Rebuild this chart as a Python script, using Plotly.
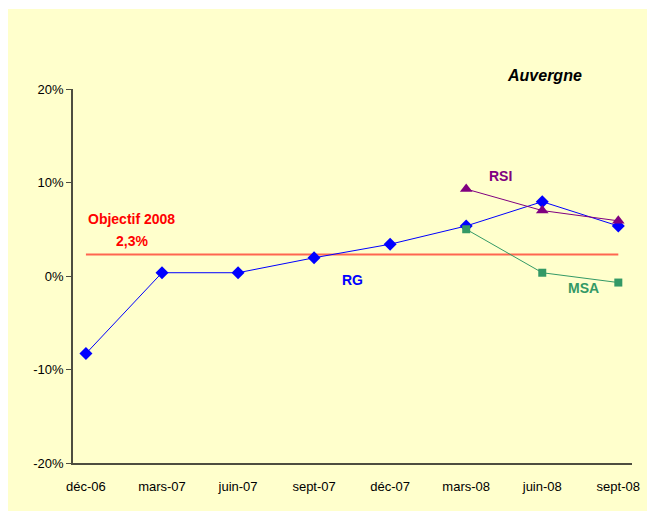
import plotly.graph_objects as go

categories = ["déc-06", "mars-07", "juin-07", "sept-07", "déc-07", "mars-08", "juin-08", "sept-08"]
rg = [-8.3, 0.35, 0.35, 1.95, 3.4, 5.35, 7.95, 5.35]
rsi_cats = ["mars-08", "juin-08", "sept-08"]
rsi = [9.3, 7.0, 5.9]
msa_cats = ["mars-08", "juin-08", "sept-08"]
msa = [5.0, 0.35, -0.7]
objectif_2008 = 2.3
y_ticks = [-20, -10, 0, 10, 20]
y_tick_labels = ["-20%", "-10%", "0%", "10%", "20%"]

FONT = "Liberation Sans, Arial, sans-serif"

fig = go.Figure()

fig.add_trace(go.Scatter(
    x=categories, y=[objectif_2008] * len(categories), mode="lines",
    line=dict(color="#FF6650", width=2), hoverinfo="skip", showlegend=False))

fig.add_trace(go.Scatter(
    x=categories, y=rg, mode="lines+markers", name="RG",
    line=dict(color="#0000FF", width=1),
    marker=dict(symbol="diamond", size=10, color="#0000FF"), showlegend=False))

fig.add_trace(go.Scatter(
    x=msa_cats, y=msa, mode="lines+markers", name="MSA",
    line=dict(color="#339966", width=1),
    marker=dict(symbol="square", size=8, color="#339966"), showlegend=False))

fig.add_trace(go.Scatter(
    x=rsi_cats, y=rsi, mode="lines+markers", name="RSI",
    line=dict(color="#800080", width=1),
    marker=dict(symbol="triangle-up", size=11, color="#800080"), showlegend=False))

annotations = [
    dict(text="<b>Objectif 2008</b>", x=0.6, y=6.06, font=dict(color="#FF0000", size=14)),
    dict(text="<b>2,3%</b>", x=0.6, y=3.74, font=dict(color="#FF0000", size=14)),
    dict(text="<b>RSI</b>", x=5.45, y=10.7, font=dict(color="#800080", size=14)),
    dict(text="<b>MSA</b>", x=6.54, y=-1.28, font=dict(color="#339966", size=14)),
    dict(text="<b>RG</b>", x=3.51, y=-0.43, font=dict(color="#0000FF", size=14)),
]
for a in annotations:
    a.update(xref="x", yref="y", showarrow=False, xanchor="center", yanchor="middle")
    a["font"]["family"] = FONT
annotations.append(dict(text="<b><i>Auvergne</i></b>", xref="paper", yref="paper",
                        x=0.8426, y=1.037, showarrow=False, xanchor="center", yanchor="middle",
                        font=dict(family=FONT, size=16, color="#000000")))

fig.update_layout(
    width=647, height=503,
    margin=dict(l=65, r=23, t=81, b=48),
    paper_bgcolor="#FFFFFF",
    plot_bgcolor="rgba(0,0,0,0)",
    font=dict(family=FONT, size=13, color="#000000"),
    annotations=annotations,
    shapes=[dict(type="rect", xref="paper", yref="paper",
                 x0=-0.118, x1=1.08, y0=-0.136, y1=1.214,
                 fillcolor="#FFFFCC", line=dict(width=0), layer="below")],
    xaxis=dict(type="category", categoryorder="array", categoryarray=categories,
               range=[-0.17, 7.18], showgrid=False, zeroline=False,
               showline=True, linecolor="#4D4D40", linewidth=1.5,
               ticks="", ticklabelstandoff=11, tickfont=dict(size=13)),
    yaxis=dict(range=[-20, 20], tickvals=y_ticks, ticktext=y_tick_labels,
               showgrid=False, zeroline=False, showline=True, linecolor="#4D4D40",
               linewidth=1.5, ticks="outside", ticklen=5, tickcolor="#4D4D40",
               tickfont=dict(size=13)),
)

fig.write_html("out.html")
